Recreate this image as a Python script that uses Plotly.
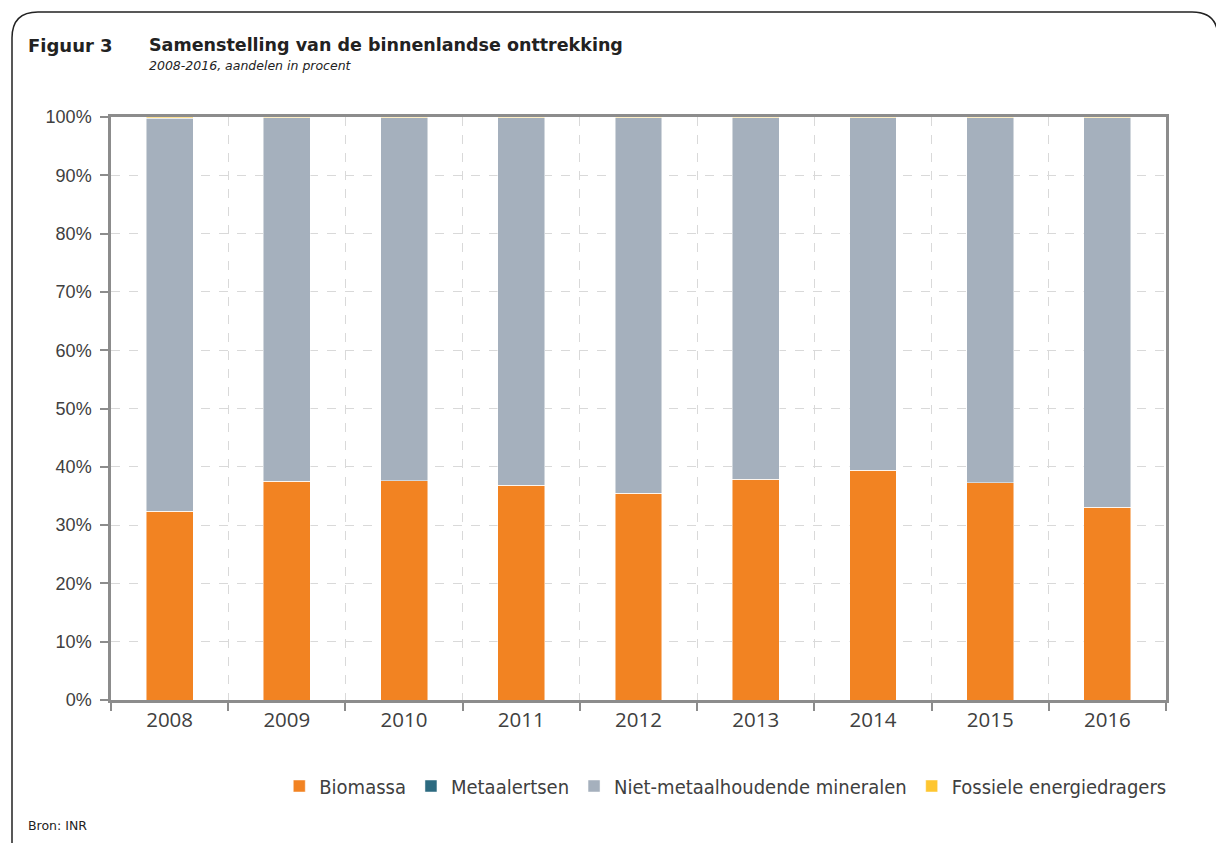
import plotly.graph_objects as go

years = [2008, 2009, 2010, 2011, 2012, 2013, 2014, 2015, 2016]
biomassa = [32.4, 37.5, 37.6, 36.8, 35.5, 37.9, 39.4, 37.3, 33.1]
metaalertsen = [0.0, 0.0, 0.0, 0.0, 0.0, 0.0, 0.0, 0.0, 0.0]
fossiel = [0.2, 0.1, 0.1, 0.1, 0.1, 0.1, 0.1, 0.1, 0.1]
niet_metaal = [round(100 - b - m - f, 1) for b, m, f in zip(biomassa, metaalertsen, fossiel)]
y_ticks = [0, 10, 20, 30, 40, 50, 60, 70, 80, 90, 100]

W, H = 1216, 843
ml, mr, mt, mb = 111, 50, 117, 143
pw, ph = W - ml - mr, H - mt - mb

def px(x):
    return (x - ml) / pw

def py(y):
    return (H - mb - y) / ph

fig = go.Figure()
series = [
    ("Biomassa", biomassa, "#F28322"),
    ("Metaalertsen", metaalertsen, "#2C6A80"),
    ("Niet-metaalhoudende mineralen", niet_metaal, "#A5B0BD"),
    ("Fossiele energiedragers", fossiel, "#FEC630"),
]
for name, vals, col in series:
    fig.add_trace(go.Bar(
        x=years, y=vals, name=name, width=0.4,
        marker=dict(color=col, line=dict(color="rgba(255,255,255,0.6)", width=0.8)),
    ))

# rounded outer frame
r = 26
x0, y0 = 12, 12
path = (f"M {px(x0)},{py(H + 30)} L {px(x0)},{py(y0 + r)} "
        f"Q {px(x0)},{py(y0)} {px(x0 + r)},{py(y0)} "
        f"L {px(1192)},{py(y0)} Q {px(1218)},{py(y0)} {px(1218)},{py(y0 + r)} "
        f"L {px(1218)},{py(H + 30)}")
fig.add_shape(type="path", path=path, xref="paper", yref="paper",
              line=dict(color="#222222", width=1.5), layer="above")

font_main = "DejaVu Sans"
fig.add_annotation(text="<b>Figuur 3</b>", x=px(26), y=py(45), xref="paper", yref="paper",
                   xanchor="left", yanchor="middle", showarrow=False,
                   font=dict(family=font_main, size=18, color="#222222"))
fig.add_annotation(text="<b>Samenstelling van de binnenlandse onttrekking</b>", x=px(147), y=py(45),
                   xref="paper", yref="paper", xanchor="left", yanchor="middle", showarrow=False,
                   font=dict(family=font_main, size=17.5, color="#222222"))
fig.add_annotation(text="<i>2008-2016, aandelen in procent</i>", x=px(147), y=py(65),
                   xref="paper", yref="paper", xanchor="left", yanchor="middle", showarrow=False,
                   font=dict(family=font_main, size=12.5, color="#222222"))
fig.add_annotation(text="Bron: INR", x=px(26), y=py(825), xref="paper", yref="paper",
                   xanchor="left", yanchor="middle", showarrow=False,
                   font=dict(family=font_main, size=12.5, color="#222222"))

axis_col = "#8C8C8C"
grid_col = "#D9D9D9"
fig.update_layout(
    width=W, height=H,
    margin=dict(l=ml, r=mr, t=mt, b=mb, pad=0),
    barmode="stack",
    plot_bgcolor="white", paper_bgcolor="white",
    font=dict(family="Liberation Sans", size=18, color="#404040"),
    showlegend=True,
    legend=dict(orientation="h", x=1.005, xanchor="right", y=py(786), yanchor="middle",
                font=dict(family="DejaVu Sans Condensed", size=20, color="#404040"),
                traceorder="normal", itemwidth=30, tracegroupgap=0),
    xaxis=dict(
        range=[2007.5, 2016.5], tickmode="array", tickvals=years, ticktext=[str(y) for y in years],
        tickfont=dict(family="Open Sans", size=20.5, color="#404040"),
        showgrid=False, showline=True, linecolor=axis_col, linewidth=2.5, mirror=True,
        ticks="", zeroline=False,
        minor=dict(tick0=2007.5, dtick=1, showgrid=True, gridcolor=grid_col, griddash="dash",
                   gridwidth=1.2, ticks="outside", ticklen=8, tickcolor=axis_col, tickwidth=2),
    ),
    yaxis=dict(
        range=[0, 100], tickmode="array", tickvals=y_ticks, ticktext=[f"{v}%" for v in y_ticks],
        tickfont=dict(family="Liberation Sans", size=18, color="#404040"),
        showgrid=True, gridcolor=grid_col, griddash="dash", gridwidth=1.2,
        showline=True, linecolor=axis_col, linewidth=2.5, mirror=True,
        ticks="outside", ticklen=8, tickcolor=axis_col, tickwidth=2, zeroline=False,
        ticklabelstandoff=5,
    ),
)

fig.write_html("out.html", config={"displayModeBar": False},
               post_script="document.body.style.margin='0';")
